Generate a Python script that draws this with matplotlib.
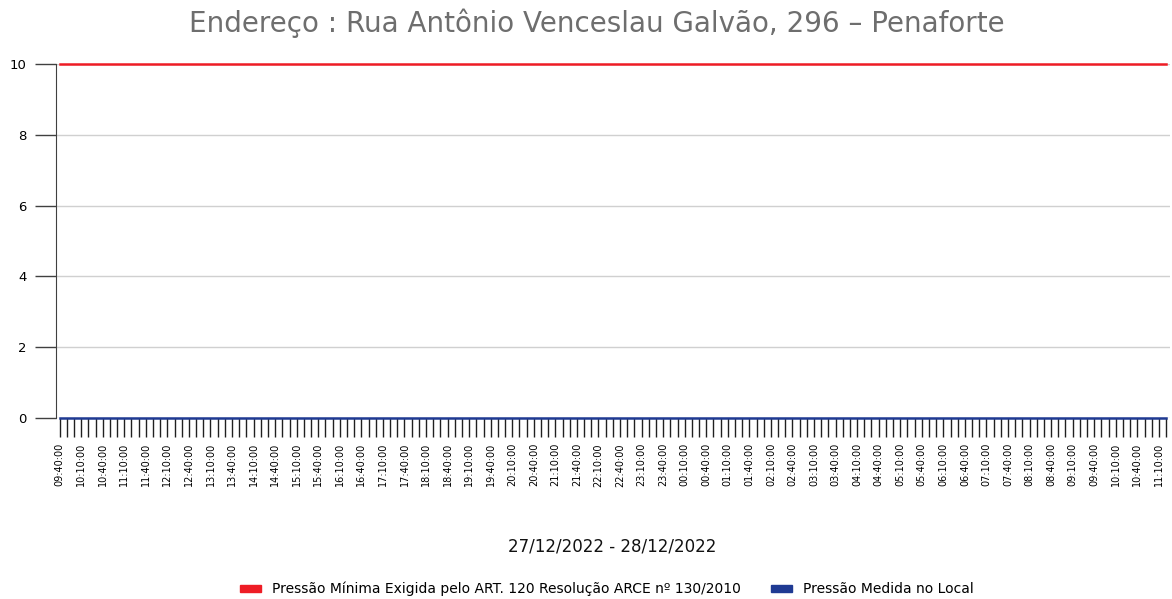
import pandas as pd
import matplotlib.pyplot as plt
from matplotlib.patches import Patch

# Horários de medição (a cada 10 minutos, 27/12 09:40 até 28/12 11:20)
horarios = pd.date_range('2022-12-27 09:40:00', '2022-12-28 11:20:00', freq='10min').strftime('%H:%M:%S').tolist()
n = len(horarios)

# Valores de pressão
pressao_minima = [10] * n
pressao_medida = [0] * n

titulo = 'Endereço : Rua Antônio Venceslau Galvão, 296 – Penaforte'
periodo = '27/12/2022 - 28/12/2022'
rotulo_minima = 'Pressão Mínima Exigida pelo ART. 120 Resolução ARCE nº 130/2010'
rotulo_medida = 'Pressão Medida no Local'
cor_minima = '#ee1c25'
cor_medida = '#1f3a93'

fig = plt.figure(figsize=(11.72, 5.99), dpi=100)
ax = fig.add_axes([0.0478, 0.302, 0.9502, 0.591])

x = list(range(n))
ax.plot(x, pressao_minima, color=cor_minima, linewidth=1.8, zorder=4, clip_on=False)
ax.plot(x, pressao_medida, color=cor_medida, linewidth=1.8, zorder=4, clip_on=False)

ax.set_xlim(-0.5, n - 0.5)
ax.set_ylim(0, 10)
ax.set_yticks([0, 2, 4, 6, 8, 10])
ax.tick_params(axis='y', length=15, width=1.0, color='#404040', labelsize=9.5, pad=6)
ax.yaxis.grid(True, color='#d0d0d0', linewidth=1.0)
ax.set_axisbelow(True)

ax.set_xticks(x)
ax.set_xticklabels([h if i % 3 == 0 else '' for i, h in enumerate(horarios)],
                   rotation=90, fontsize=7)
ax.tick_params(axis='x', length=14, width=1.0, color='#202020', pad=4)

for s in ['top', 'right', 'bottom']:
    ax.spines[s].set_visible(False)
ax.spines['left'].set_color('#404040')

fig.text(0.509, 0.962, titulo, ha='center', va='center', fontsize=20, color='#6e6e6e')
fig.text(0.522, 0.087, periodo, ha='center', va='center', fontsize=12, color='#111111')

handles = [Patch(color=cor_minima), Patch(color=cor_medida)]
fig.legend(handles, [rotulo_minima, rotulo_medida], loc='center', bbox_to_anchor=(0.518, 0.017),
           ncol=2, frameon=False, fontsize=10, handlelength=1.5, handleheight=0.4,
           columnspacing=2.2)

plt.savefig('out.png', dpi=100)
